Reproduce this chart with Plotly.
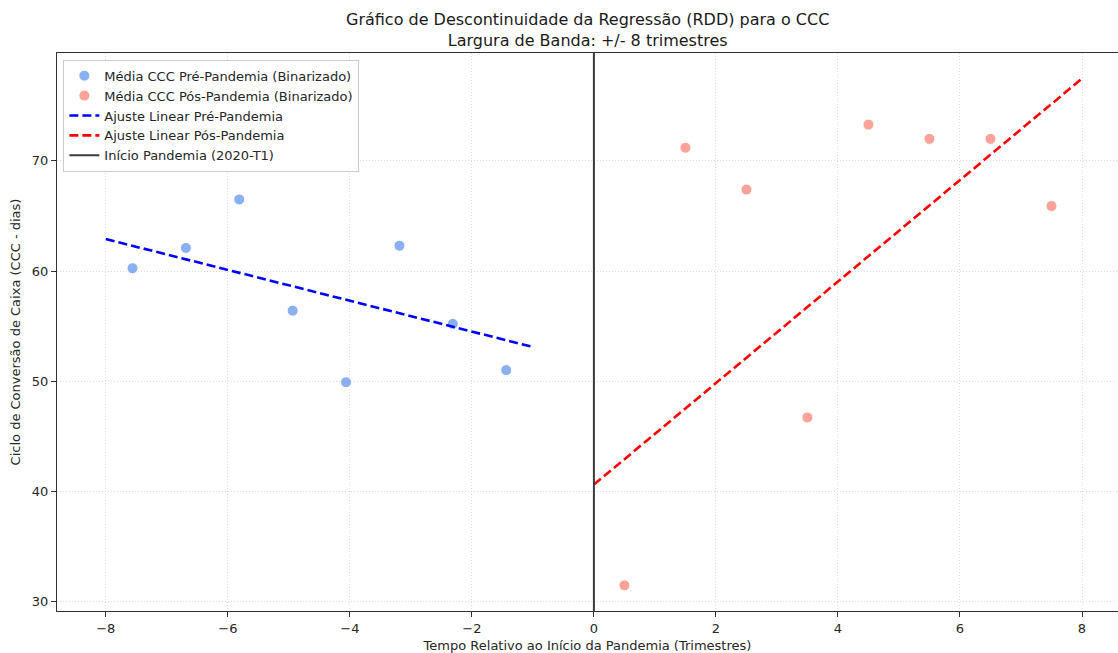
import plotly.graph_objects as go

# Binned means of the cash conversion cycle (CCC) around the pandemic cutoff
pre_x = [-7.5625, -6.6875, -5.8125, -4.9375, -4.0625, -3.1875, -2.3125, -1.4375]
pre_y = [60.25, 62.1, 66.5, 56.4, 49.9, 62.3, 55.2, 51.0]

post_x = [0.5, 1.5, 2.5, 3.5, 4.5, 5.5, 6.5, 7.5]
post_y = [31.45, 71.2, 67.4, 46.7, 73.3, 72.0, 72.0, 65.9]

# Linear fits on each side of the cutoff (intercept at x=0, slope per quarter)
pre_fit_x = [-8, -1]
pre_intercept, pre_slope = 51.7, -1.4
post_fit_x = [0, 8]
post_intercept, post_slope = 40.6, 4.61

cutoff_x = 0
x_range = [-8.8, 8.59]
y_range = [29.12, 79.8]

x_ticks = [-8, -6, -4, -2, 0, 2, 4, 6, 8]
x_tick_labels = ["−8", "−6", "−4", "−2", "0", "2", "4", "6", "8"]
y_ticks = [30, 40, 50, 60, 70]
y_tick_labels = ["30", "40", "50", "60", "70"]

title_lines = [
    "Gráfico de Descontinuidade da Regressão (RDD) para o CCC",
    "Largura de Banda: +/- 8 trimestres",
]

FONT = "DejaVu Sans"

fig = go.Figure()

fig.add_trace(go.Scatter(
    x=pre_x, y=pre_y, mode="markers",
    name="Média CCC Pré-Pandemia (Binarizado)",
    marker=dict(size=11, color="rgba(100,149,237,0.75)",
                line=dict(color="white", width=1)),
))
fig.add_trace(go.Scatter(
    x=post_x, y=post_y, mode="markers",
    name="Média CCC Pós-Pandemia (Binarizado)",
    marker=dict(size=11, color="rgba(250,128,114,0.72)",
                line=dict(color="white", width=1)),
))
fig.add_trace(go.Scatter(
    x=pre_fit_x, y=[pre_intercept + pre_slope * v for v in pre_fit_x],
    mode="lines", name="Ajuste Linear Pré-Pandemia",
    line=dict(color="#0000ff", width=2.6, dash="9px,4px"),
))
fig.add_trace(go.Scatter(
    x=post_fit_x, y=[post_intercept + post_slope * v for v in post_fit_x],
    mode="lines", name="Ajuste Linear Pós-Pandemia",
    line=dict(color="#ff0000", width=2.6, dash="9px,4px"),
))
fig.add_trace(go.Scatter(
    x=[cutoff_x, cutoff_x], y=y_range,
    mode="lines", name="Início Pandemia (2020-T1)",
    line=dict(color="#3a3a3a", width=2),
))

# Two-line chart title centred over the plotting area
fig.add_annotation(
    text="<br>".join(title_lines),
    xref="paper", yref="paper", x=0.5, y=1,
    xanchor="center", yanchor="bottom", yshift=1,
    showarrow=False, align="center",
    font=dict(family=FONT, size=16, color="#1a1a1a"),
)

fig.update_layout(
    width=1118, height=653,
    margin=dict(l=57, r=0, t=53, b=42),
    paper_bgcolor="white", plot_bgcolor="white",
    font=dict(family=FONT, size=13, color="#262626"),
    showlegend=True,
    legend=dict(
        x=0.006, y=0.988, xanchor="left", yanchor="top",
        bgcolor="rgba(255,255,255,0.85)",
        bordercolor="#cccccc", borderwidth=1,
        font=dict(family=FONT, size=13, color="#262626"),
        tracegroupgap=0, itemwidth=30,
    ),
)

GRID = "#dcdcdc"

fig.update_xaxes(
    range=x_range, tickvals=x_ticks, ticktext=x_tick_labels,
    showgrid=True, gridcolor=GRID, griddash="1px,2px", gridwidth=1,
    zeroline=False,
    showline=True, linecolor="#333333", linewidth=1, mirror=True,
    ticks="outside", ticklen=5, tickcolor="#333333",
    title=dict(text="Tempo Relativo ao Início da Pandemia (Trimestres)",
               standoff=6, font=dict(size=13)),
)
fig.update_yaxes(
    range=y_range, tickvals=y_ticks, ticktext=y_tick_labels,
    showgrid=True, gridcolor=GRID, griddash="1px,2px", gridwidth=1,
    zeroline=False,
    showline=True, linecolor="#333333", linewidth=1, mirror=False,
    ticks="outside", ticklen=5, tickcolor="#333333",
    title=dict(text="Ciclo de Conversão de Caixa (CCC - dias)",
               standoff=8, font=dict(size=13)),
)

fig.write_html("out.html")
